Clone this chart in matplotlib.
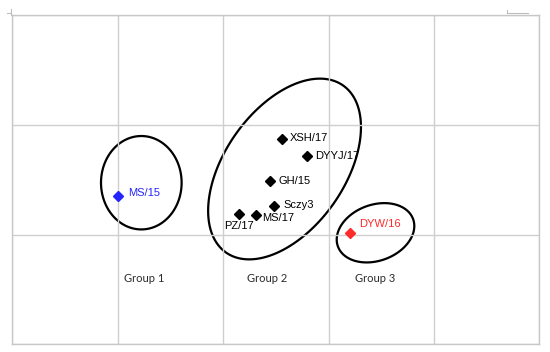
import numpy as np
import matplotlib
matplotlib.use("Agg")
import matplotlib.pyplot as plt
from matplotlib.lines import Line2D

# sample positions (x in grid columns, y in grid rows from bottom)
names = ["MS/15", "XSH/17", "DYYJ/17", "GH/15", "Sczy3", "MS/17", "PZ/17", "DYW/16"]
xs = [1.00, 2.556, 2.799, 2.442, 2.483, 2.315, 2.154, 3.204]
ys = [1.353, 1.870, 1.715, 1.490, 1.262, 1.180, 1.184, 1.011]
colors = ["#2424ff", "black", "black", "black", "black", "black", "black", "#ff2a2a"]
# label offsets in pixels (dx, dy) and alignment
offsets = [(10, 3), (8, 1), (8, 0), (9, 0), (9, 1), (6, -3), (0, -12), (9, 9)]
aligns = ["left", "left", "left", "left", "left", "left", "center", "left"]

groups = ["Group 1", "Group 2", "Group 3"]
group_x = [1.25, 2.416, 3.44]
group_y = [0.595, 0.595, 0.595]

# group ellipses: centre (data), semi-axes (px), angle (deg)
ell_cx = [1.224, 2.583, 3.446]
ell_cy = [1.472, 1.597, 1.016]
ell_a = [40.3, 102.0, 40.0]
ell_b = [46.7, 60.0, 28.0]
ell_ang = [0, 55, 20]

W, H = 550, 352
fig = plt.figure(figsize=(W / 100, H / 100), dpi=100)
ax_l, ax_b, ax_w, ax_h = 12.3, 352 - 344.3, 527.0, 329.3
ax = fig.add_axes([ax_l / W, ax_b / H, ax_w / W, ax_h / H])
ax.set_xlim(0, 5)
ax.set_ylim(0, 3)
ax.set_xticks(np.arange(0, 6))
ax.set_yticks(np.arange(0, 4))
ax.tick_params(length=0, labelbottom=False, labelleft=False)
ax.grid(True, color="#cfcfcf", linewidth=1.0)
for sp in ax.spines.values():
    sp.set_color("#c8c8c8")
    sp.set_linewidth(1.0)

sx = ax_w / 5  # px per x unit
sy = ax_h / 3  # px per y unit

t = np.linspace(0, 2 * np.pi, 300, endpoint=False)
for cx, cy, a, b, ang in zip(ell_cx, ell_cy, ell_a, ell_b, ell_ang):
    th = np.deg2rad(ang)
    px = a * np.cos(t) * np.cos(th) - b * np.sin(t) * np.sin(th)
    py = a * np.cos(t) * np.sin(th) + b * np.sin(t) * np.cos(th)
    ax.fill(cx + px / sx, cy + py / sy, fill=False, edgecolor="black", linewidth=1.6)

for x, y, c in zip(xs, ys, colors):
    ax.plot(x, y, marker="D", markersize=5.5, color=c, linestyle="none")

for name, x, y, c, (dx, dy), ha in zip(names, xs, ys, colors, offsets, aligns):
    ax.text(x + dx / sx, y + dy / sy, name, color=c, fontsize=8,
            family="Liberation Sans", ha=ha, va="center")

for g, x, y in zip(groups, group_x, group_y):
    ax.text(x, y, g, fontsize=8, family="Lato", color="#2a2a2a", ha="center", va="center")

# small crop marks at the top edge
def fig_line(x0, y0, x1, y1):
    fig.add_artist(Line2D([x0 / W, x1 / W], [1 - y0 / H, 1 - y1 / H],
                          color="#bdbdbd", linewidth=0.8))

fig_line(7, 12.7, 11, 12.7)
fig_line(11, 9.3, 11, 15)
fig_line(507, 10, 507, 12.5)
fig_line(507, 12.5, 528, 12.5)

fig.savefig("out.png", dpi=100)
